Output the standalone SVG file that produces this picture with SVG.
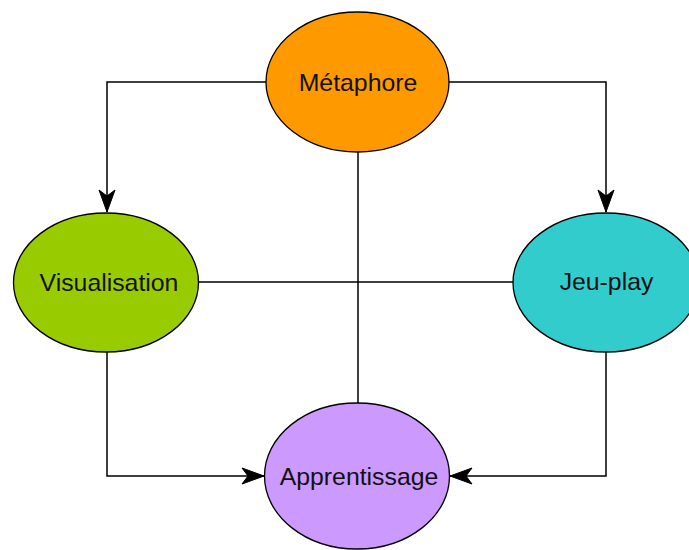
<svg xmlns="http://www.w3.org/2000/svg" width="689" height="550" viewBox="0 0 689 550">
  <defs>
    <style>
      .node ellipse { stroke: #000; stroke-width: 1.3; }
      .node text { font-family: "Liberation Sans", Arial, sans-serif; font-size: 24.8px; fill: #111; text-anchor: middle; }
      .edge { fill: none; stroke: #000; stroke-width: 1.5; }
    </style>
    <marker id="arrow" markerUnits="userSpaceOnUse" markerWidth="24" markerHeight="20" refX="22" refY="9" orient="auto" overflow="visible">
      <path d="M22,9 L0,1 L6,9 L0,17 Z" fill="#000" stroke="#000" stroke-width="1"/>
    </marker>
  </defs>
  <rect width="689" height="550" fill="#fff"/>
  <g id="connectors">
    <path class="edge" d="M266,82 H107 V212" marker-end="url(#arrow)"/>
    <path class="edge" d="M449,82 H606 V212" marker-end="url(#arrow)"/>
    <path class="edge" d="M358,152 V403"/>
    <path class="edge" d="M198,282 H513"/>
    <path class="edge" d="M107,352 V476 H264" marker-end="url(#arrow)"/>
    <path class="edge" d="M606,352 V476 H450" marker-end="url(#arrow)"/>
  </g>
  <g id="metaphore" class="node">
    <ellipse cx="357.5" cy="82" rx="91.5" ry="70" fill="#FF9900"/>
    <text x="358" y="91">Métaphore</text>
  </g>
  <g id="visualisation" class="node">
    <ellipse cx="106" cy="282.5" rx="92.5" ry="69.5" fill="#99CC00"/>
    <text x="109" y="291">Visualisation</text>
  </g>
  <g id="jeu-play" class="node">
    <ellipse cx="606" cy="282.5" rx="93" ry="69.5" fill="#33CCCC"/>
    <text x="606.5" y="290">Jeu-play</text>
  </g>
  <g id="apprentissage" class="node">
    <ellipse cx="357" cy="476" rx="92.5" ry="73" fill="#CC99FF"/>
    <text x="359" y="485">Apprentissage</text>
  </g>
</svg>
